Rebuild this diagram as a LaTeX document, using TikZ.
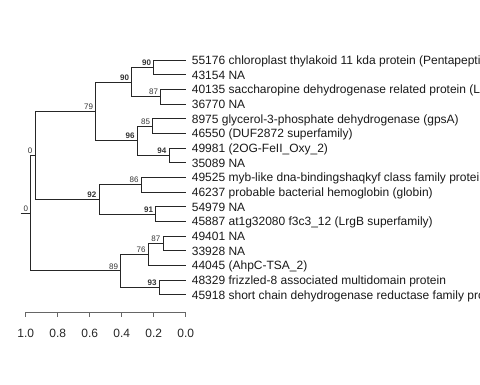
\documentclass[tikz,border=0pt]{standalone}
\usepackage{fontspec}
\setmainfont{Liberation Sans}
\begin{document}
\begin{tikzpicture}[x=1pt,y=-1pt,
  edge/.style={draw=black!85, line width=0.9pt},
  leaf/.style={anchor=base west, inner sep=0pt, yshift=-4.3pt, xshift=5.7pt, font=\fontsize{12}{14}\selectfont, text=black!90},
  bs/.style={anchor=south east, inner sep=0pt, xshift=-2.5pt, yshift=1.5pt, font=\fontsize{8}{9}\selectfont, text=black!80},
  bsb/.style={bs, font=\fontsize{8}{9}\selectfont\bfseries},
  axlab/.style={anchor=center, inner sep=0pt, font=\fontsize{12}{14}\selectfont, text=black!85}]
\useasboundingbox (0,0) rectangle (480,384);
\clip (0,0) rectangle (480,384);
% leaves
\coordinate (l1) at (186,60.0);
\coordinate (l2) at (186,74.7);
\coordinate (l3) at (186,89.3);
\coordinate (l4) at (186,104.0);
\coordinate (l5) at (186,118.7);
\coordinate (l6) at (186,133.3);
\coordinate (l7) at (186,148.0);
\coordinate (l8) at (186,162.7);
\coordinate (l9) at (186,177.3);
\coordinate (l10) at (186,192.0);
\coordinate (l11) at (186,206.7);
\coordinate (l12) at (186,221.3);
\coordinate (l13) at (186,236.0);
\coordinate (l14) at (186,250.7);
\coordinate (l15) at (186,265.3);
\coordinate (l16) at (186,280.0);
\coordinate (l17) at (186,294.7);
% internal nodes
\coordinate (n12) at (153.7,67.3);
\coordinate (n34) at (160.7,96.7);
\coordinate (n1234) at (131.7,82.0);
\coordinate (n56) at (152.7,126.0);
\coordinate (n78) at (169.0,155.3);
\coordinate (n5678) at (137.3,140.7);
\coordinate (nA) at (95.7,111.3);
\coordinate (n910) at (141.3,184.7);
\coordinate (n1112) at (155.7,214.0);
\coordinate (nB) at (99.0,199.3);
\coordinate (nAB) at (35.0,155.3);
\coordinate (n1314) at (163.0,243.3);
\coordinate (n131415) at (148.3,254.3);
\coordinate (n1617) at (159.3,287.3);
\coordinate (nC) at (120.7,270.8);
\coordinate (root) at (30.7,213.1);
\coordinate (stub) at (20.7,213.1);
% edges
\draw[edge] (n12) |- (l1); \draw[edge] (n12) |- (l2);
\draw[edge] (n34) |- (l3); \draw[edge] (n34) |- (l4);
\draw[edge] (n1234) |- (n12); \draw[edge] (n1234) |- (n34);
\draw[edge] (n56) |- (l5); \draw[edge] (n56) |- (l6);
\draw[edge] (n78) |- (l7); \draw[edge] (n78) |- (l8);
\draw[edge] (n5678) |- (n56); \draw[edge] (n5678) |- (n78);
\draw[edge] (nA) |- (n1234); \draw[edge] (nA) |- (n5678);
\draw[edge] (n910) |- (l9); \draw[edge] (n910) |- (l10);
\draw[edge] (n1112) |- (l11); \draw[edge] (n1112) |- (l12);
\draw[edge] (nB) |- (n910); \draw[edge] (nB) |- (n1112);
\draw[edge] (nAB) |- (nA); \draw[edge] (nAB) |- (nB);
\draw[edge] (n1314) |- (l13); \draw[edge] (n1314) |- (l14);
\draw[edge] (n131415) |- (n1314); \draw[edge] (n131415) |- (l15);
\draw[edge] (n1617) |- (l16); \draw[edge] (n1617) |- (l17);
\draw[edge] (nC) |- (n131415); \draw[edge] (nC) |- (n1617);
\draw[edge] (root) |- (nAB); \draw[edge] (root) |- (nC);
\draw[edge] (stub) -- (root);
% bootstrap labels
\node[bsb] (b1) at (n12) {90};
\node[bs] (b2) at (n34) {87};
\node[bsb] (b3) at (n1234) {90};
\node[bs] (b4) at (n56) {85};
\node[bsb] (b5) at (n78) {94};
\node[bsb] (b6) at (n5678) {96};
\node[bs] (b7) at (nA) {79};
\node[bs] (b8) at (n910) {86};
\node[bsb] (b9) at (n1112) {91};
\node[bsb] (b10) at (nB) {92};
\node[bs] (b11) at (nAB) {0};
\node[bs] (b12) at (n1314) {87};
\node[bs] (b13) at (n131415) {76};
\node[bsb] (b14) at (n1617) {93};
\node[bs] (b15) at (nC) {89};
\node[bs] (b16) at (root) {0};
% leaf labels
\node[leaf] (t1) at (l1) {55176 chloroplast thylakoid 11 kda protein (Pentapepti};
\node[leaf] (t2) at (l2) {43154 NA};
\node[leaf] (t3) at (l3) {40135 saccharopine dehydrogenase related protein (L};
\node[leaf] (t4) at (l4) {36770 NA};
\node[leaf] (t5) at (l5) {8975 glycerol-3-phosphate dehydrogenase (gpsA)};
\node[leaf] (t6) at (l6) {46550 (DUF2872 superfamily)};
\node[leaf] (t7) at (l7) {49981 (2OG-FeII\_Oxy\_2)};
\node[leaf] (t8) at (l8) {35089 NA};
\node[leaf] (t9) at (l9) {49525 myb-like dna-bindingshaqkyf class family protei};
\node[leaf] (t10) at (l10) {46237 probable bacterial hemoglobin (globin)};
\node[leaf] (t11) at (l11) {54979 NA};
\node[leaf] (t12) at (l12) {45887 at1g32080 f3c3\_12 (LrgB superfamily)};
\node[leaf] (t13) at (l13) {49401 NA};
\node[leaf] (t14) at (l14) {33928 NA};
\node[leaf] (t15) at (l15) {44045 (AhpC-TSA\_2)};
\node[leaf] (t16) at (l16) {48329 frizzled-8 associated multidomain protein};
\node[leaf] (t17) at (l17) {45918 short chain dehydrogenase reductase family pro};
% axis
\coordinate (a0) at (25.7,312.3);
\coordinate (a5) at (185.7,312.3);
\draw[edge, draw=black!60] (a0) -- (a5);
\foreach \i/\v in {0/1.0,1/0.8,2/0.6,3/0.4,4/0.2,5/0.0}{
  \coordinate (tk\i) at (25.7+32*\i,312.3);
  \draw[edge, draw=black!60] (tk\i) -- ++(0,5);
  \node[axlab] (al\i) at (25.7+32*\i,333) {\v};
}
\end{tikzpicture}
\end{document}
